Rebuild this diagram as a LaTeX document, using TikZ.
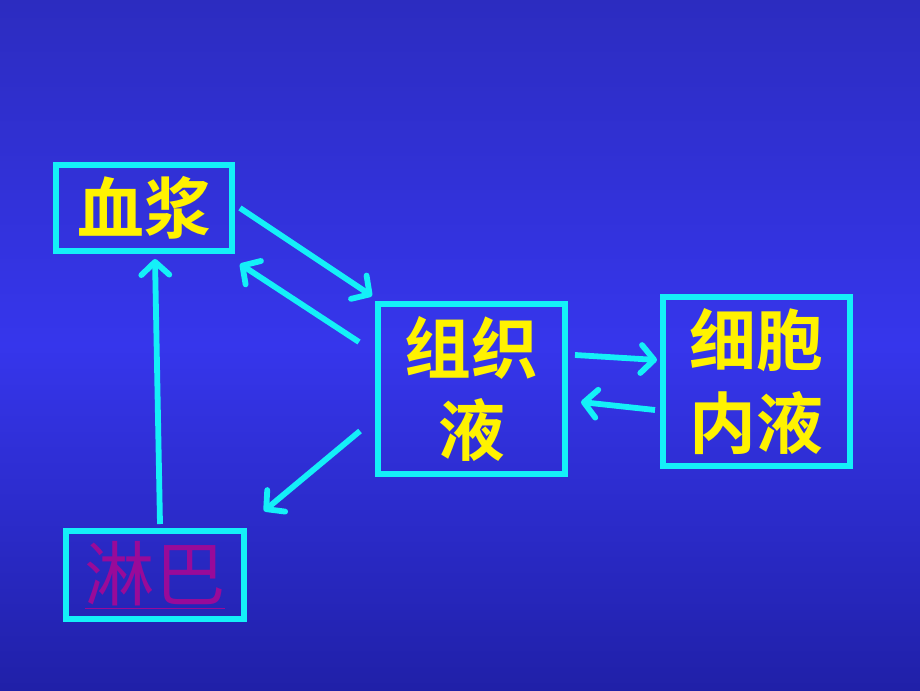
\documentclass[tikz,border=0pt]{standalone}
\usepackage{fontspec}
\newfontfamily\cjk{Noto Sans CJK SC}[BoldFont={Noto Sans CJK SC Bold}]
\usepackage{tikz}
\usetikzlibrary{arrows.meta, calc}

\definecolor{bgtop}{HTML}{2C2CC0}
\definecolor{bgmid}{HTML}{3636EC}
\definecolor{bgbot}{HTML}{2020A8}
\definecolor{boxline}{HTML}{14F0F8}
\definecolor{linkpurple}{HTML}{990A99}

\begin{document}
\begin{tikzpicture}[
        box/.style={rectangle, draw=boxline, line width=3.4pt, align=center, text=yellow, font=\cjk\bfseries\fontsize{38}{47}\selectfont},
        arrow/.style={-{Straight Barb[length=2.6mm, width=5.6mm, round]}, draw=boxline, line width=3.3pt} % open barbs
    ]
    % background
    \shade[top color=bgtop, bottom color=bgbot, middle color=bgmid] (0,0) rectangle (18.4,13.8);
    \useasboundingbox (0,0) rectangle (18.4,13.8);

    % Nodes
    \node[box, minimum width=3.52cm, minimum height=1.72cm] (plasma) at (2.88,9.64) {血浆};
    \node[box, minimum width=3.74cm, minimum height=3.4cm] (tissue) at (9.43,6.02) {组织\\液};
    \node[box, minimum width=3.74cm, minimum height=3.38cm] (cell) at (15.13,6.17) {细胞\\内液};
    \node[box, minimum width=3.56cm, minimum height=1.76cm, text=linkpurple, font=\cjk\fontsize{40}{47}\selectfont] (lymph) at (3.1,2.3) {\underline{淋巴}};

    % Connections
    \draw[arrow] ($(plasma.east)+(0.1,0)$) -- ($(tissue.north west)+(-0.06,0.1)$);
    \draw[arrow] ($(tissue.north west)+(-0.32,-0.82)$) -- ($(plasma.south east)+(0.1,-0.2)$);
    \draw[arrow] ($(tissue.south west)+(-0.3,0.92)$) -- ($(lymph.north east)+(0.34,0.34)$);
    \draw[arrow] ($(lymph.north)+(0.1,0.08)$) -- ($(plasma.south)+(0.22,-0.1)$);
    \draw[arrow] ($(tissue.east)+(0.14,0.68)$) -- ($(cell.west)+(-0.06,0.43)$);
    \draw[arrow] ($(cell.west)+(-0.1,-0.57)$) -- ($(tissue.east)+(0.26,-0.26)$);

\end{tikzpicture}
\end{document}
